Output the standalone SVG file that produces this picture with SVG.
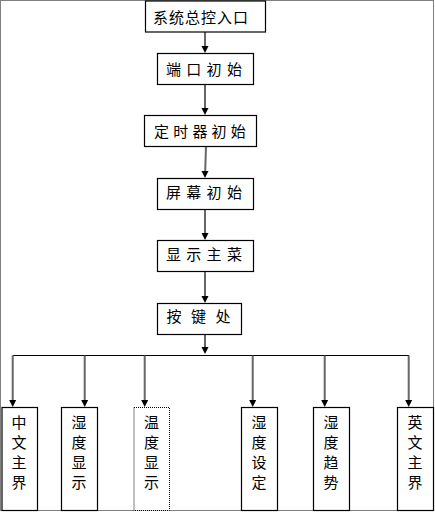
<svg xmlns="http://www.w3.org/2000/svg" width="435" height="512" viewBox="0 0 435 512">
<style>
.box{fill:#fff;stroke:#000;stroke-width:1.2}
.dot{fill:#fff;stroke:#000;stroke-width:1;stroke-dasharray:1 1}
.t{font-family:"Noto Sans CJK SC","Noto Sans",sans-serif;font-size:15px;fill:#000}
.v{font-family:"Noto Sans CJK SC","Noto Sans",sans-serif;font-size:15px;fill:#000;text-anchor:middle}
.ln{stroke:#666;stroke-width:2;fill:none}
.hl{stroke:#000;stroke-width:1;fill:none}
.ah{fill:#000}
</style>
<rect x="0.5" y="0.5" width="433" height="510" fill="#fff" stroke="#000" stroke-width="1" stroke-dasharray="1 1"/>
<g id="connectors">
<path class="ln" d="M205,32 V46"/>
<path class="ln" d="M205,84 V108"/>
<path class="ln" d="M206,146 L205.2,171"/>
<path class="ln" d="M205,209 V233"/>
<path class="ln" d="M205,271 V296"/>
<path class="ln" d="M205,334 V347"/>
<polygon class="ah" points="201.5,46 208.5,46 205,53"/>
<polygon class="ah" points="201.5,108 208.5,108 205,115"/>
<polygon class="ah" points="201.5,171 208.5,171 205,178"/>
<polygon class="ah" points="201.5,233 208.5,233 205,240"/>
<polygon class="ah" points="201.5,296 208.5,296 205,303"/>
<polygon class="ah" points="201.5,347 208.5,347 205,354"/>
<path class="hl" d="M12.7,355.5 H409"/>
<path class="ln" d="M12.7,355.5 V400"/>
<path class="ln" d="M84.7,355.5 V400"/>
<path class="ln" d="M144.7,355.5 V400"/>
<path class="ln" d="M252.7,355.5 V400"/>
<path class="ln" d="M324.7,355.5 V400"/>
<path class="ln" d="M408.7,355.5 V400"/>
<polygon class="ah" points="9.2,400 16.2,400 12.7,407"/>
<polygon class="ah" points="81.2,400 88.2,400 84.7,407"/>
<polygon class="ah" points="141.2,400 148.2,400 144.7,407"/>
<polygon class="ah" points="249.2,400 256.2,400 252.7,407"/>
<polygon class="ah" points="321.2,400 328.2,400 324.7,407"/>
<polygon class="ah" points="405.2,400 412.2,400 408.7,407"/>
</g>
<g id="n1"><rect class="box" x="145.5" y="1" width="120" height="31"/><text class="t" x="153" y="23" letter-spacing="1">系统总控入口</text></g>
<g id="n2"><rect class="box" x="157.5" y="53.5" width="96" height="31"/><text class="t" x="166" y="74.5" letter-spacing="5.3">端口初始</text></g>
<g id="n3"><rect class="box" x="144.5" y="115.5" width="112" height="31"/><text class="t" x="154" y="136.5" letter-spacing="4.2">定时器初始</text></g>
<g id="n4"><rect class="box" x="157.5" y="178.5" width="96" height="31"/><text class="t" x="166" y="198" letter-spacing="5.3">屏幕初始</text></g>
<g id="n5"><rect class="box" x="157.5" y="240.5" width="96" height="31"/><text class="t" x="166" y="260" letter-spacing="5.3">显示主菜</text></g>
<g id="n6"><rect class="box" x="157.5" y="303.5" width="84" height="31"/><text class="t" x="166.5" y="322" letter-spacing="9.5">按键处</text></g>
<g id="b1"><rect class="box" x="2" y="407.5" width="35.5" height="103"/><text class="v" x="19" y="428">中</text><text class="v" x="19" y="448">文</text><text class="v" x="19" y="468">主</text><text class="v" x="19" y="488">界</text></g>
<g id="b2"><rect class="box" x="61.5" y="407.5" width="36" height="103"/><text class="v" x="79" y="428">湿</text><text class="v" x="79" y="448">度</text><text class="v" x="79" y="468">显</text><text class="v" x="79" y="488">示</text></g>
<g id="b3"><rect class="dot" x="134" y="407.5" width="35.5" height="103"/><text class="v" x="151.5" y="428">温</text><text class="v" x="151.5" y="448">度</text><text class="v" x="151.5" y="468">显</text><text class="v" x="151.5" y="488">示</text></g>
<g id="b4"><rect class="box" x="241.5" y="407.5" width="36" height="103"/><text class="v" x="259" y="428">湿</text><text class="v" x="259" y="448">度</text><text class="v" x="259" y="468">设</text><text class="v" x="259" y="488">定</text></g>
<g id="b5"><rect class="box" x="313.5" y="407.5" width="36" height="103"/><text class="v" x="331" y="428">湿</text><text class="v" x="331" y="448">度</text><text class="v" x="331" y="468">趋</text><text class="v" x="331" y="488">势</text></g>
<g id="b6"><rect class="box" x="397.5" y="407.5" width="36" height="103"/><text class="v" x="415" y="428">英</text><text class="v" x="415" y="448">文</text><text class="v" x="415" y="468">主</text><text class="v" x="415" y="488">界</text></g>
</svg>
